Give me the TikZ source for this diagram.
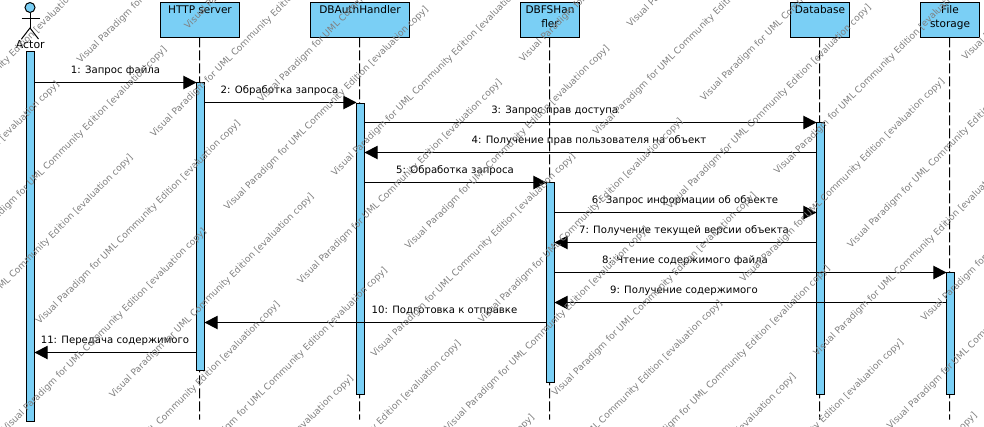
\documentclass[tikz,border=0pt]{standalone}
\usepackage{fontspec}
\setmainfont{DejaVu Sans}
\usetikzlibrary{arrows.meta}
\definecolor{umlblue}{HTML}{7ACFF5}
\tikzset{
  x=0.75pt,y=-0.75pt,
  ln/.style={line width=0.75pt,draw=black},
  headbox/.style={ln,fill=umlblue,rectangle,inner sep=0pt,outer sep=0pt,minimum height=25.9pt},
  actbar/.style={ln,fill=umlblue,rectangle,inner sep=0pt,outer sep=0pt,minimum width=6pt},
  lifeline/.style={ln,dash pattern=on 7.5pt off 2.25pt},
  msg/.style={ln,-{Triangle[length=9.8pt,width=10pt,fill=black]}},
  lab/.style={font=\fontsize{7.6pt}{10.5pt}\selectfont,inner sep=0pt,anchor=base},
  wm/.style={font=\fontsize{6.85pt}{9pt}\selectfont,text=black!50,inner sep=0pt,anchor=base west,rotate=45},
}
\newcommand{\boxtext}[2]{\parbox[c][25.9pt][t]{#1}{\centering\fontsize{7.9pt}{10.5pt}\selectfont\vspace*{2pt}#2\par}}
\begin{document}
\begin{tikzpicture}
\useasboundingbox (0,0) rectangle (984,426);
% head boxes
\node[headbox,minimum width=59.25pt] (h) at (200,20) {\boxtext{56pt}{HTTP server}};
\node[headbox,minimum width=74.25pt] (da) at (360,20) {\boxtext{71pt}{DBAuthHandler}};
\node[headbox,minimum width=44.25pt] (df) at (550,20) {\boxtext{43pt}{DBFSHan\\fler}};
\node[headbox,minimum width=44.25pt] (db) at (820,20) {\boxtext{43pt}{Database}};
\node[headbox,minimum width=44.25pt] (fs) at (950,20) {\boxtext{43pt}{File\\storage}};
% lifeline ends
\coordinate (hend) at (199.5,419.5);
\coordinate (daend) at (359.5,419.5);
\coordinate (dfend) at (549.5,419.5);
\coordinate (dbend) at (819.5,419.5);
\coordinate (fsend) at (949.5,419.5);
\draw[lifeline] ([xshift=-.37pt]h.south) -- (hend);
\draw[lifeline] ([xshift=-.37pt]da.south) -- (daend);
\draw[lifeline] ([xshift=-.37pt]df.south) -- (dfend);
\draw[lifeline] ([xshift=-.37pt]db.south) -- (dbend);
\draw[lifeline] ([xshift=-.37pt]fs.south) -- (fsend);
% actor
\node[ln,circle,fill=umlblue,inner sep=0pt,outer sep=0pt,minimum size=7.5pt] (head) at (30,7.5) {};
\coordinate (hip) at (30,28);
\coordinate (armL) at (21.5,18.5);
\coordinate (armR) at (39.5,18.5);
\coordinate (legL) at (21.5,39);
\coordinate (legR) at (38.5,39);
\draw[ln] (head.south) -- (hip);
\draw[ln] (armL) -- (armR);
\draw[ln] (legL) -- (hip) -- (legR);
\node[lab,font=\fontsize{8.2pt}{10.5pt}\selectfont] (actor) at (30.3,48) {Actor};
% activation bars
\node[actbar,minimum height=277.5pt] (aA) at (30.5,236.25) {};
\node[actbar,minimum height=216pt] (aH) at (200.5,226.5) {};
\node[actbar,minimum height=218.25pt] (aDA) at (360.5,248.5) {};
\node[actbar,minimum height=150pt] (aDF) at (550.5,282.5) {};
\node[actbar,minimum height=204pt] (aDB) at (820.5,258.5) {};
\node[actbar,minimum height=91.5pt] (aFS) at (950.5,333.5) {};
% messages
\draw[msg] (aA.east |- 0,82.5) -- (aH.west |- 0,82.5);
\draw[msg] (aH.east |- 0,102.5) -- (aDA.west |- 0,102.5);
\draw[msg] (aDA.east |- 0,122.5) -- (aDB.west |- 0,122.5);
\draw[msg] (aDB.west |- 0,152.5) -- (aDA.east |- 0,152.5);
\draw[msg] (aDA.east |- 0,182.5) -- (aDF.west |- 0,182.5);
\draw[msg] (aDF.east |- 0,212.5) -- (aDB.west |- 0,212.5);
\draw[msg] (aDB.west |- 0,242.5) -- (aDF.east |- 0,242.5);
\draw[msg] (aDF.east |- 0,272.5) -- (aFS.west |- 0,272.5);
\draw[msg] (aFS.west |- 0,302.5) -- (aDF.east |- 0,302.5);
\draw[msg] (aDF.west |- 0,322.5) -- (aH.east |- 0,322.5);
\draw[msg] (aH.west |- 0,352.5) -- (aA.east |- 0,352.5);
% labels
\node[lab] (m1) at (115.5,73.3) {1: Запрос файла};
\node[lab] (m2) at (279.5,93.3) {2: Обработка запроса};
\node[lab] (m3) at (554.7,113.3) {3: Запрос прав доступа};
\node[lab] (m4) at (589,143.3) {4: Получение прав пользователя на объект};
\node[lab] (m5) at (455,173.3) {5: Обработка запроса};
\node[lab] (m6) at (685,203.3) {6: Запрос информации об объекте};
\node[lab] (m7) at (684,233.3) {7: Получение текущей версии объекта};
\node[lab] (m8) at (685,263.3) {8: Чтение содержимого файла};
\node[lab] (m9) at (684,293.3) {9: Получение содержимого};
\node[lab] (m10) at (444.5,313.3) {10: Подготовка к отправке};
\node[lab] (m11) at (115,343.3) {11: Передача содержимого};
% watermark
\begin{scope}
\clip (0,0) rectangle (984,426);
\foreach \k in {-2,...,2}{
  \foreach \m in {-1,...,11}{
    \pgfmathsetmacro{\dA}{15+444*\k}
    \pgfmathsetmacro{\sA}{139+147*\m}
    \pgfmathsetmacro{\xA}{(\sA+\dA)/2+3.5}
    \pgfmathsetmacro{\yA}{(\sA-\dA)/2+2}
    \pgfmathsetmacro{\dB}{157+444*\k}
    \pgfmathsetmacro{\sB}{212+147*\m}
    \pgfmathsetmacro{\xB}{(\sB+\dB)/2+3.5}
    \pgfmathsetmacro{\yB}{(\sB-\dB)/2+2}
    \pgfmathparse{(\xA<-100 && \yA>450) ? 0 : 1}
    \ifnum\pgfmathresult=1
    \node[wm] (wa\k-\m) at (\xA,\yA) {Visual Paradigm for UML Community Edition [evaluation copy]};
    \fi
    \pgfmathparse{(\xB<-100 && \yB>450) ? 0 : 1}
    \ifnum\pgfmathresult=1
    \node[wm] (wb\k-\m) at (\xB,\yB) {Visual Paradigm for UML Community Edition [evaluation copy]};
    \fi
  }
}
\end{scope}
\end{tikzpicture}
\end{document}
